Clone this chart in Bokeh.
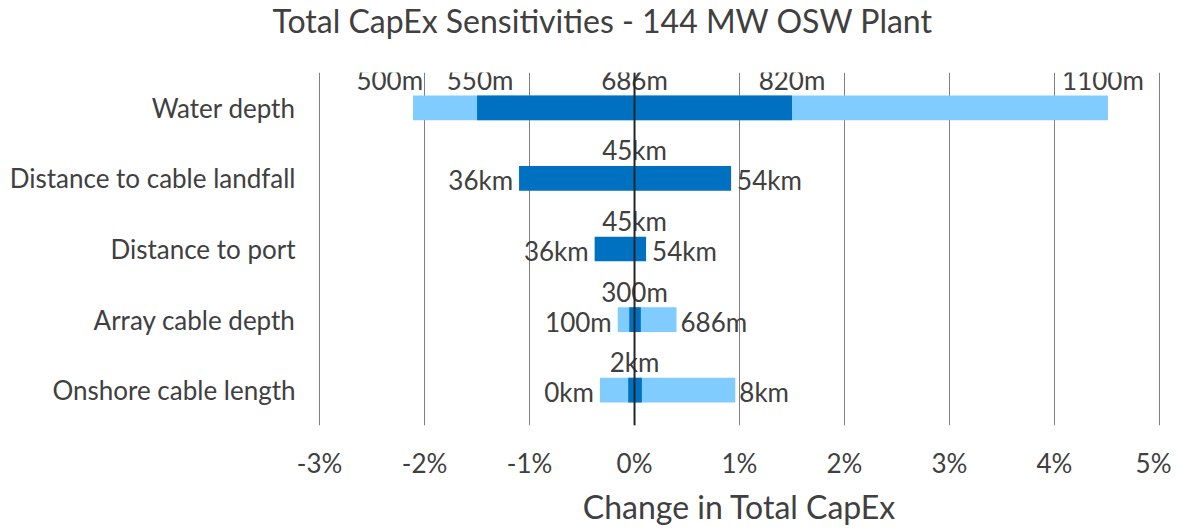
import math
from bokeh.plotting import figure
from bokeh.models import Range1d, FixedTicker, PrintfTickFormatter, Span, ColumnDataSource, Title
from bokeh.core.properties import value
from bokeh.embed import file_html
from bokeh.resources import INLINE

# ---------------- data ----------------
title_text = "Total CapEx Sensitivities - 144 MW OSW Plant"
categories = ["Water depth", "Distance to cable landfall", "Distance to port",
              "Array cable depth", "Onshore cable length"]
base_labels = ["686m", "45km", "45km", "300m", "2km"]

# narrow (dark) bars: low / high case change in total CapEx (%)
narrow_low = [-1.50, -1.10, -0.38, -0.05, -0.06]
narrow_high = [1.50, 0.92, 0.11, 0.06, 0.07]
narrow_low_labels = ["550m", "36km", "36km", "", ""]
narrow_high_labels = ["820m", "54km", "54km", "", ""]

# wide (light) bars
wide_categories = ["Water depth", "Array cable depth", "Onshore cable length"]
wide_low = [-2.11, -0.16, -0.33]
wide_high = [4.51, 0.40, 0.96]
wide_low_labels = ["500m", "100m", "0km"]
wide_high_labels = ["1100m", "686m", "8km"]

x_ticks = [-3, -2, -1, 0, 1, 2, 3, 4, 5]

# ---------------- styles ----------------
FONT = "Lato"
TXT = "#404040"
LIGHT = "#80CCFF"
DARK = "#0070C0"
LBL_SIZE = "26px"

p = figure(
    y_range=list(reversed(categories)),
    x_range=Range1d(x_ticks[0] - 0.02, x_ticks[-1] + 0.02),
    frame_width=844, frame_height=353,
    min_border_left=317, min_border_right=10, min_border_top=72, min_border_bottom=10,
    output_backend="svg", toolbar_location=None,
    title=title_text,
)
p.outline_line_color = None
p.background_fill_color = "white"

p.title.text_font = FONT
p.title.text_font_size = "32px"
p.title.text_font_style = "normal"
p.title.text_color = TXT
p.title.align = "left"
p.title.vertical_align = "top"
p.title.offset = -45
p.title.standoff = 0

# blank (white) spacer between the title and the frame
p.add_layout(Title(text=".", text_font_size="25px", text_color="white", standoff=11), "above")

# grid
p.ygrid.grid_line_color = None
p.xgrid.grid_line_color = "#808080"
p.xgrid.grid_line_width = 1
p.xgrid.ticker = FixedTicker(ticks=x_ticks)

# x axis
p.xaxis.ticker = FixedTicker(ticks=x_ticks)
p.xaxis.formatter = PrintfTickFormatter(format="%d%%")
p.xaxis.axis_line_color = None
p.xaxis.major_tick_line_color = None
p.xaxis.minor_tick_line_color = None
p.xaxis.major_tick_out = 0
p.xaxis.major_label_standoff = 21
p.xaxis.major_label_text_font = FONT
p.xaxis.major_label_text_font_size = LBL_SIZE
p.xaxis.major_label_text_color = TXT
p.xaxis.axis_label = "Change in Total CapEx"
p.xaxis.axis_label_text_font = FONT
p.xaxis.axis_label_text_font_size = "32px"
p.xaxis.axis_label_text_font_style = "normal"
p.xaxis.axis_label_text_color = TXT
p.xaxis.axis_label_standoff = 5

# y axis
p.yaxis.axis_line_color = None
p.yaxis.major_tick_line_color = None
p.yaxis.major_tick_out = 0
p.yaxis.major_label_standoff = 22
p.yaxis.major_label_text_font = FONT
p.yaxis.major_label_text_font_size = LBL_SIZE
p.yaxis.major_label_text_color = TXT

BAR_H = 0.35
p.hbar(y=wide_categories, left=wide_low, right=wide_high, height=BAR_H,
       fill_color=LIGHT, line_color=None)
p.hbar(y=categories, left=narrow_low, right=narrow_high, height=BAR_H,
       fill_color=DARK, line_color=None)

# ---------------- labels ----------------
lx, ly, lt, la, lxo, lyo = [], [], [], [], [], []
ABOVE = -28
GAP = 6

def add(x, y, t, align, xo, yo):
    if t:
        lx.append(x); ly.append(y); lt.append(t); la.append(align); lxo.append(xo); lyo.append(yo)

for i, c in enumerate(categories):
    add(0, c, base_labels[i], "center", 0, ABOVE)
    if i == 0:
        add(narrow_low[i], c, narrow_low_labels[i], "center", 3, ABOVE)
        add(narrow_high[i], c, narrow_high_labels[i], "center", 0, ABOVE)
    else:
        add(narrow_low[i], c, narrow_low_labels[i], "right", -GAP, 2)
        add(narrow_high[i], c, narrow_high_labels[i], "left", GAP, 2)

for j, c in enumerate(wide_categories):
    if j == 0:
        add(wide_low[j], c, wide_low_labels[j], "right", 10, ABOVE)
        add(wide_high[j], c, wide_high_labels[j], "center", -5, ABOVE)
    else:
        add(wide_low[j], c, wide_low_labels[j], "right", -GAP, 2)
        add(wide_high[j], c, wide_high_labels[j], "left", GAP - 2, 2)

src = ColumnDataSource(dict(x=lx, y=ly, t=lt, a=la, xo=lxo, yo=lyo))
p.text(x="x", y="y", text="t", source=src, text_align="a", x_offset="xo", y_offset="yo",
       text_baseline="middle", text_font=value(FONT), text_font_size=LBL_SIZE,
       text_color=TXT)

p.add_layout(Span(location=0, dimension="height", line_color="#262626", line_width=2))

open("out.html", "w").write(file_html(p, INLINE))
